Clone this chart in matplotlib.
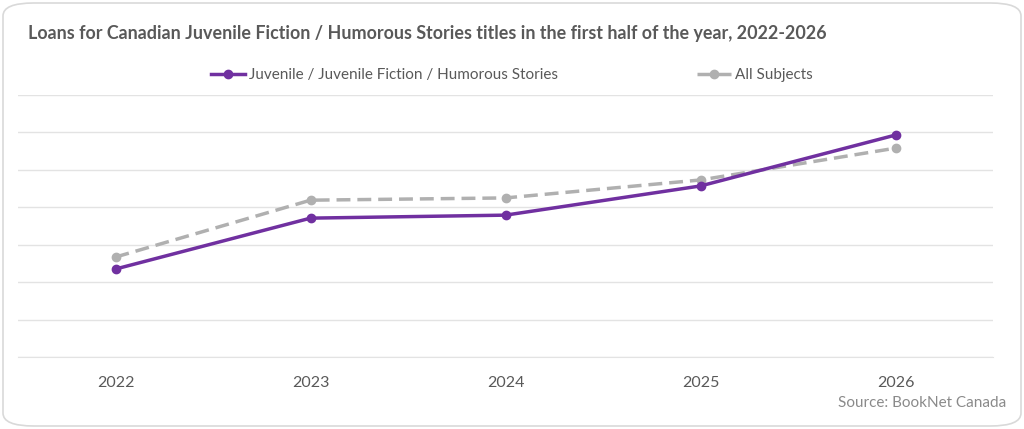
import matplotlib.pyplot as plt
from matplotlib.patches import FancyBboxPatch

years = ['2022', '2023', '2024', '2025', '2026']
juvenile = [2.35, 3.71, 3.79, 4.57, 5.93]
all_subjects = [2.67, 4.19, 4.25, 4.73, 5.58]

plt.rcParams['font.family'] = ['Lato', 'DejaVu Sans']

fig = plt.figure(figsize=(10.24, 4.29), dpi=100)
ax = fig.add_axes([18/1024, 1-357/429, 975/1024, 262/429])

x = range(len(years))
ax.plot(x, juvenile, color='#7030a0', lw=2.5, marker='o', ms=6,
        label='Juvenile / Juvenile Fiction / Humorous Stories', zorder=3)
ax.plot(x, all_subjects, color='#b0b0b0', lw=2.5, ls=(0, (4, 2)), marker='o', ms=6,
        label='All Subjects', zorder=2)

ax.set_xlim(-0.5, 4.5)
ax.set_ylim(0, 7)
ax.set_yticks(range(8))
ax.set_yticklabels([])
ax.set_xticks(list(x))
ax.set_xticklabels(years)
ax.tick_params(axis='y', length=0)
ax.tick_params(axis='x', length=0, pad=14, labelsize=11.5, labelcolor='#595959')
ax.grid(axis='y', color='#e3e3e3', lw=1)
for s in ['top', 'right', 'left']:
    ax.spines[s].set_visible(False)
ax.spines['bottom'].set_color('#e3e3e3')

fig.text(28/1024, 1-34/429, 'Loans for Canadian Juvenile Fiction / Humorous Stories titles in the first half of the year, 2022-2026',
         fontsize=12.9, fontweight='bold', color='#595959', va='center')
fig.text(1006/1024, 1-403/429, 'Source: BookNet Canada', fontsize=11, color='#8a8a8a',
         ha='right', va='center')

fig.legend(loc='center', bbox_to_anchor=(0.5, 1-75/429), ncol=2, frameon=False,
           fontsize=11, labelcolor='#595959', handlelength=2.2, handletextpad=0.3,
           columnspacing=9.1)

border = FancyBboxPatch((3/1024, 3/429), 1018/1024, 423/429,
                        boxstyle='round,pad=0,rounding_size=0.03',
                        transform=fig.transFigure, fill=False,
                        edgecolor='#d9d9d9', lw=1.2)
fig.patches.append(border)

plt.savefig('out.png', dpi=100)
